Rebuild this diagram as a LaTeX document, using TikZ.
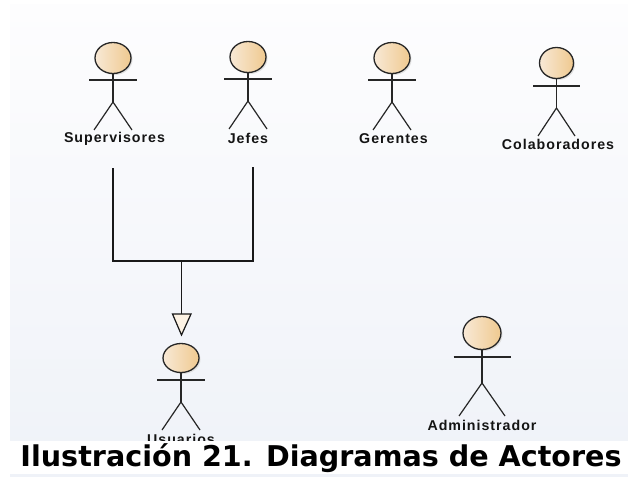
\documentclass[tikz,border=0pt]{standalone}
\usepackage{fontspec}
\setmainfont{Liberation Sans}
\newfontfamily\capfont{DejaVu Sans}
\usetikzlibrary{calc}
\definecolor{headL}{HTML}{F8E9D6}
\definecolor{headR}{HTML}{EFC98F}
\definecolor{bgTop}{HTML}{FDFDFE}
\definecolor{bgBot}{HTML}{EFF2F8}
\definecolor{arrowFill}{HTML}{FDF3E4}
\tikzset{
  limb/.style={line width=1.2pt,draw=black!85},
  headshape/.style={draw=black!85,line width=1.3pt,left color=headL,right color=headR},
  headshadow/.style={fill=black!12,draw=none},
  actorlabel/.style={font=\fontsize{14.2}{17}\selectfont\bfseries\addfontfeature{LetterSpace=7},text=black!92,inner sep=0pt,anchor=center},
  conn/.style={line width=1.1pt,draw=black!90},
  captext/.style={font=\fontsize{28.6}{34}\selectfont\capfont\bfseries,inner sep=0pt,anchor=center,text=black},
}
% args: name, head x, head y, rx, ry, arm y, hip y, arm half width, foot half width
\newcommand{\actorfig}[9]{%
  \fill[headshadow] (#2+1.5,#3+1.5) ellipse [x radius=#4,y radius=#5];
  \draw[limb] (#2,#3+#5) -- (#2,#7);
  \draw[limb] (#2-#8,#6) -- (#2+#8,#6);
  \draw[limb] (#2-#9,#7+28) -- (#2,#7) -- (#2+#9,#7+28);
  \path[headshape] (#2,#3) ellipse [x radius=#4,y radius=#5];
  \coordinate (#1) at (#2,#3);
}
\begin{document}
\begin{tikzpicture}[x=1pt,y=-1pt]
\useasboundingbox (0,0) rectangle (628,476);
\fill[white] (0,0) rectangle (628,476);
\shade[top color=bgTop,bottom color=bgBot] (10,5) rectangle (628,476);
\actorfig{aS}{113}{58}{18}{15.5}{80}{102}{24}{19}
\actorfig{aJ}{248}{57}{18}{15.5}{79}{101}{24}{19}
\actorfig{aG}{392}{58}{18}{15.5}{80}{102}{24}{19}
\actorfig{aC}{556.5}{63}{17}{15.5}{86}{108}{23.5}{18.5}
\actorfig{aU}{181}{358}{18}{14.5}{380}{402}{24}{19}
\node[actorlabel] (lS) at (114.5,139) {Supervisores};
\node[actorlabel] (lJ) at (248,138) {Jefes};
\node[actorlabel] (lG) at (393.5,139) {Gerentes};
\node[actorlabel] (lC) at (558,144) {Colaboradores};
\node[actorlabel] (lU) at (181,439) {Usuarios};
% Administrador
\fill[headshadow] (483.5,334.5) ellipse [x radius=19,y radius=16.5];
\draw[limb] (482,349) -- (482,383);
\draw[limb] (453.5,357) -- (510.5,357);
\draw[limb] (459,416) -- (482,383) -- (505,416);
\path[headshape] (482,333) ellipse [x radius=19,y radius=16.5];
\node[actorlabel] (lA) at (482,425) {Administrador};
% connectors
\coordinate (cS) at (113,168);
\coordinate (cJ) at (253,167);
\coordinate (cM) at (181.5,261);
\coordinate (cT) at (181.5,314);
\draw[conn] (cS) |- (cM) -| (cJ);
\draw[conn] (cM) -- (cT);
\draw[line width=1.2pt,draw=black!90,fill=arrowFill,line join=miter] (172.5,314) -- (191,314) -- (181.5,335) -- cycle;
% caption band
\fill[white] (10,441) rectangle (628,474);
\node[captext] (cap) at (321,458.5) {Ilustración 21. Diagramas de Actores};
\end{tikzpicture}
\end{document}
